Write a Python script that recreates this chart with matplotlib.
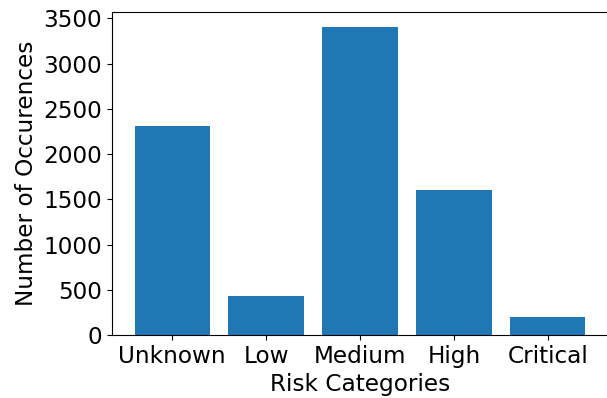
import matplotlib
matplotlib.use("Agg")
import matplotlib.pyplot as plt
from matplotlib.ticker import MultipleLocator

categories = ["Unknown", "Low", "Medium", "High", "Critical"]
occurrences = [2305, 428, 3400, 1600, 196]

fig = plt.figure(figsize=(6.07, 3.98), dpi=100)
ax = fig.add_axes([112/607, 1 - 335/398, 496/607, 323/398])
ax.bar(categories, occurrences, color="#1f77b4")
fs = 16.7
ax.set_xlabel("Risk Categories", fontsize=fs)
ax.set_ylabel("Number of Occurences", fontsize=fs)
ax.yaxis.set_major_locator(MultipleLocator(500))
ax.tick_params(labelsize=fs)
fig.savefig("out.png", dpi=100)
